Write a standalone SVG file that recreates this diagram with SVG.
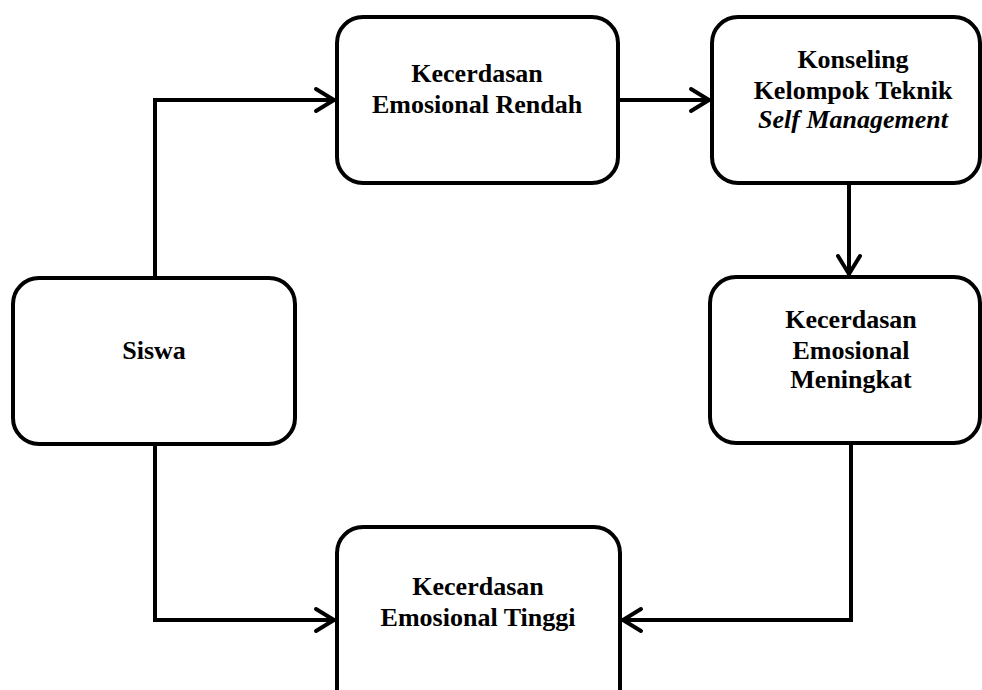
<svg xmlns="http://www.w3.org/2000/svg" width="982" height="690" viewBox="0 0 982 690">
<style>
.box{fill:#fff;stroke:#000;stroke-width:4}
.t{font-family:"Liberation Serif","Times New Roman",serif;font-weight:bold;font-size:26px;text-anchor:middle;fill:#000}
.i{font-style:italic}
.c{fill:none;stroke:#000;stroke-width:4}
</style>
<defs>
<marker id="arr" markerUnits="userSpaceOnUse" markerWidth="30" markerHeight="30" refX="22" refY="15" orient="auto">
<path d="M3,4 L21,15 L3,26" fill="none" stroke="#000" stroke-width="4" stroke-linecap="round" stroke-linejoin="miter"/>
</marker>
</defs>
<rect width="982" height="690" fill="#fff"/>
<g id="connectors">
<path class="c" d="M155,277 V100 H335" marker-end="url(#arr)"/>
<path class="c" d="M618,100 H710" marker-end="url(#arr)"/>
<path class="c" d="M849,183 V275" marker-end="url(#arr)"/>
<path class="c" d="M851,443 V620 H622" marker-end="url(#arr)"/>
<path class="c" d="M155,444 V620 H335" marker-end="url(#arr)"/>
</g>
<g id="siswa">
<rect class="box" x="13" y="278" width="282" height="166" rx="26"/>
<text class="t" x="154" y="359">Siswa</text>
</g>
<g id="rendah">
<rect class="box" x="337" y="17" width="281" height="166" rx="26"/>
<text class="t" x="477" y="82">Kecerdasan</text>
<text class="t" x="477" y="113">Emosional Rendah</text>
</g>
<g id="konseling">
<rect class="box" x="712" y="17" width="268" height="166" rx="26"/>
<text class="t" x="853" y="68">Konseling</text>
<text class="t" x="853" y="99">Kelompok Teknik</text>
<text class="t i" x="853" y="128">Self Management</text>
</g>
<g id="meningkat">
<rect class="box" x="710" y="277" width="270" height="166" rx="26"/>
<text class="t" x="851" y="328">Kecerdasan</text>
<text class="t" x="851" y="359">Emosional</text>
<text class="t" x="851" y="388">Meningkat</text>
</g>
<g id="tinggi">
<rect class="box" x="337" y="527" width="283" height="190" rx="26"/>
<text class="t" x="478" y="595">Kecerdasan</text>
<text class="t" x="478" y="626">Emosional Tinggi</text>
</g>
</svg>
